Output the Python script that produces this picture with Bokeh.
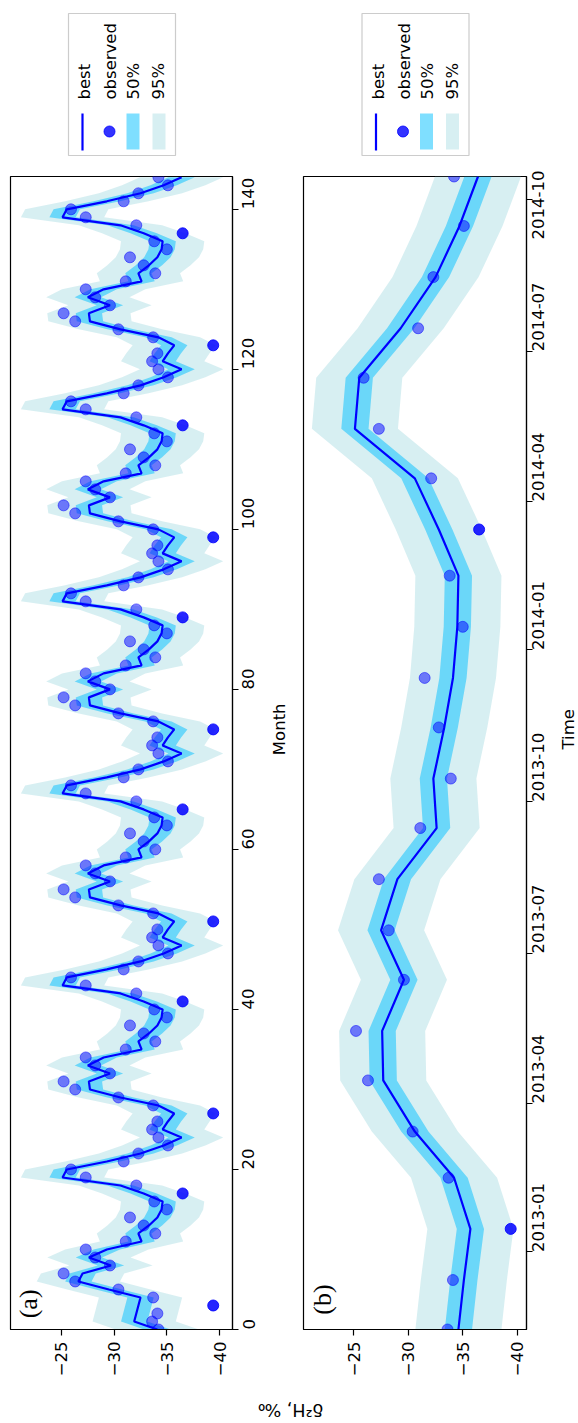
import math
import pandas as pd
from bokeh.plotting import figure
from bokeh.layouts import column, row
from bokeh.models import (Range1d, FixedTicker, CustomJSTickFormatter,
                          DatetimeTickFormatter, Label, ColumnDataSource)
from bokeh.core.properties import value
from bokeh.embed import file_html
from bokeh.resources import INLINE

# ---------------- data ----------------
# monthly series, month 0 .. 144 (month 121 = 2012-11-15, month 144 = 2014-10-15)
best = [
    -34.1, -31.9, -32.1, -32.3, -32.5, -29.5, -26.6, -27.0, -29.7, -27.6, -29.3, -32.6,
    -32.3, -33.3, -34.1, -34.5, -34.6, -32.8, -30.6, -25.1, -25.5, -29.3, -32.5, -34.7,
    -36.4, -34.6, -35.1, -35.7, -34.2, -30.6, -27.7, -27.6, -29.6, -27.5, -29.0, -32.6,
    -32.3, -33.3, -34.1, -34.5, -34.6, -32.8, -30.6, -25.1, -25.5, -29.3, -32.5, -34.7,
    -36.4, -34.6, -35.1, -35.7, -34.2, -30.6, -27.7, -27.6, -29.6, -27.5, -29.0, -32.6,
    -32.3, -33.3, -34.1, -34.5, -34.6, -32.8, -30.6, -25.1, -25.5, -29.3, -32.5, -34.7,
    -36.4, -34.6, -35.1, -35.7, -34.2, -30.6, -27.7, -27.6, -29.6, -27.5, -29.0, -32.6,
    -32.3, -33.3, -34.1, -34.5, -34.6, -32.8, -30.6, -25.1, -25.5, -29.3, -32.5, -34.7,
    -36.4, -34.6, -35.1, -35.7, -34.2, -30.6, -27.7, -27.6, -29.6, -27.5, -29.0, -32.6,
    -32.3, -33.3, -34.1, -34.5, -34.6, -32.8, -30.6, -25.1, -25.5, -29.3, -32.5, -34.7,
    -36.4, -34.6, -35.1, -35.7, -34.2, -30.6, -27.7, -27.6, -29.6, -27.5, -29.0, -32.6,
    -32.3, -33.3, -34.1, -34.5, -34.6, -32.8, -30.6, -25.1, -25.5, -29.3, -32.5, -34.7,
    -36.4,
]
observed = [
    -34.2, -33.6, -34.1, -39.4, -33.7, -30.4, -26.3, -25.2, -29.6, -28.2, -27.3, -31.1,
    -33.9, -32.8, -31.5, -35.0, -33.8, -36.5, -32.1, -27.3, -25.9, -30.9, -32.3, -35.1,
    -34.2, -33.6, -34.1, -39.4, -33.7, -30.4, -26.3, -25.2, -29.6, -28.2, -27.3, -31.1,
    -33.9, -32.8, -31.5, -35.0, -33.8, -36.5, -32.1, -27.3, -25.9, -30.9, -32.3, -35.1,
    -34.2, -33.6, -34.1, -39.4, -33.7, -30.4, -26.3, -25.2, -29.6, -28.2, -27.3, -31.1,
    -33.9, -32.8, -31.5, -35.0, -33.8, -36.5, -32.1, -27.3, -25.9, -30.9, -32.3, -35.1,
    -34.2, -33.6, -34.1, -39.4, -33.7, -30.4, -26.3, -25.2, -29.6, -28.2, -27.3, -31.1,
    -33.9, -32.8, -31.5, -35.0, -33.8, -36.5, -32.1, -27.3, -25.9, -30.9, -32.3, -35.1,
    -34.2, -33.6, -34.1, -39.4, -33.7, -30.4, -26.3, -25.2, -29.6, -28.2, -27.3, -31.1,
    -33.9, -32.8, -31.5, -35.0, -33.8, -36.5, -32.1, -27.3, -25.9, -30.9, -32.3, -35.1,
    -34.2, -33.6, -34.1, -39.4, -33.7, -30.4, -26.3, -25.2, -29.6, -28.2, -27.3, -31.1,
    -33.9, -32.8, -31.5, -35.0, -33.8, -36.5, -32.1, -27.3, -25.9, -30.9, -32.3, -35.1,
    -34.2,
]
half50 = 1.25   # half width of the 50% band
half95 = 3.95   # half width of the 95% band
months = list(range(len(best)))
zoom_start = "2012-11-15"   # date of month 121
zoom_first = 121
month_ticks = [0, 20, 40, 60, 80, 100, 120, 140]
value_ticks = [-25, -30, -35, -40]
date_ticks = ["2013-01-01", "2013-04-01", "2013-07-01", "2013-10-01",
              "2014-01-01", "2014-04-01", "2014-07-01", "2014-10-01"]
legend_labels = ["best", "observed", "50%", "95%"]

# ---------------- derived ----------------
lo50 = [b - half50 for b in best]
hi50 = [b + half50 for b in best]
lo95 = [b - half95 for b in best]
hi95 = [b + half95 for b in best]
alpha = [0.85 if abs(o - b) > 3.5 else 0.5 for o, b in zip(observed, best)]

FONT = "DejaVu Sans"
FS = "16.5px"
minus_fmt = CustomJSTickFormatter(code="return tick < 0 ? '\u2212' + (-tick) : '' + tick;")


def style(p, ystand):
    p.xgrid.visible = False
    p.ygrid.visible = False
    p.outline_line_color = "black"
    p.outline_line_alpha = 1.0
    p.outline_line_width = 1.2
    p.background_fill_color = "white"
    p.border_fill_color = "white"
    for ax in p.axis:
        ax.axis_line_color = "black"
        ax.axis_line_width = 1.2
        ax.major_tick_line_color = "black"
        ax.major_tick_line_width = 1.2
        ax.major_tick_out = 6
        ax.major_tick_in = 0
        ax.minor_tick_out = 0
        ax.minor_tick_in = 0
        ax.major_label_text_font = FONT
        ax.major_label_text_font_size = FS
        ax.major_label_text_color = "black"
        ax.major_label_orientation = math.pi / 2
    p.xaxis.major_label_standoff = 6
    p.yaxis.major_label_standoff = ystand


def draw(p, ys, sl):
    src = ColumnDataSource(dict(y=ys, best=best[sl], obs=observed[sl], lo50=lo50[sl],
                                hi50=hi50[sl], lo95=lo95[sl], hi95=hi95[sl], a=alpha[sl]))
    p.harea(x1="lo95", x2="hi95", y="y", source=src, fill_color="powderblue", fill_alpha=0.5)
    p.harea(x1="lo50", x2="hi50", y="y", source=src, fill_color="deepskyblue", fill_alpha=0.5)
    p.line(x="best", y="y", source=src, line_color="blue", line_width=2.2)
    p.scatter(x="obs", y="y", source=src, size=11, fill_color="blue", line_color="blue",
              fill_alpha="a", line_alpha="a")


def strip(width, height, x, y, text, angle, fs=FS):
    p = figure(width=width, height=height, x_range=Range1d(0, width), y_range=Range1d(height, 0),
               x_axis_location=None, y_axis_location=None, output_backend="svg",
               toolbar_location=None, min_border=0)
    p.grid.visible = False
    p.outline_line_color = None
    p.text(x=[x], y=[y], text=[text], angle=angle, text_align="center",
           text_baseline="middle", text_font=value(FONT), text_font_size=fs,
           text_color="black")
    return p


# ---------------- panel (a) ----------------
pa = figure(width=268, height=1215, x_range=Range1d(-20.16, -41.23), y_range=Range1d(0, 144.1),
            y_axis_location="right", output_backend="svg", toolbar_location=None,
            min_border_left=10, min_border_right=36, min_border_top=6, min_border_bottom=56)
draw(pa, months, slice(0, len(best)))
style(pa, 10)
pa.xaxis.ticker = FixedTicker(ticks=value_ticks)
pa.xaxis.formatter = minus_fmt
pa.yaxis.ticker = FixedTicker(ticks=month_ticks)
pa.add_layout(Label(x=-21.9, y=1.4, text="(a)", angle=math.pi / 2, text_align="left",
                    text_baseline="middle", text_font="Liberation Serif",
                    text_font_size="26px", text_color="black"))

# ---------------- panel (b) ----------------
dates_b = [(pd.Timestamp(zoom_start) + pd.DateOffset(months=i)).to_pydatetime()
           for i in range(len(best) - zoom_first)]

pb = figure(width=268, height=1215, x_range=Range1d(-20.38, -40.85),
            y_range=Range1d(dates_b[0], dates_b[-1]), y_axis_type="datetime",
            y_axis_location="right", output_backend="svg", toolbar_location=None,
            min_border_left=13, min_border_right=32, min_border_top=6, min_border_bottom=56)
draw(pb, dates_b, slice(zoom_first, len(best)))
style(pb, 6)
pb.xaxis.ticker = FixedTicker(ticks=value_ticks)
pb.xaxis.formatter = minus_fmt
pb.yaxis.ticker = FixedTicker(ticks=[pd.Timestamp(t).value / 1e6 for t in date_ticks])
pb.yaxis.formatter = DatetimeTickFormatter(days="%Y-%m", months="%Y-%m", years="%Y-%m",
                                           hours="%Y-%m", minutes="%Y-%m")
pb.add_layout(Label(x=-22.1, y=pd.Timestamp("2012-11-24").value / 1e6, text="(b)",
                    angle=math.pi / 2, text_align="left", text_baseline="middle",
                    text_font="Liberation Serif", text_font_size="26px", text_color="black"))

# axis titles, in narrow strips beside each panel
month_strip = strip(22, 1215, 10.5, 582.5, "Month", math.pi / 2)
time_strip = strip(20, 1215, 10.2, 582.5, "Time", math.pi / 2)


# ---------------- legends ----------------
def legend_fig(width, dx):
    p = figure(width=width, height=170, x_range=Range1d(0, width), y_range=Range1d(170, 0),
               x_axis_location=None, y_axis_location=None, output_backend="svg",
               toolbar_location=None, min_border=0)
    p.grid.visible = False
    p.outline_line_color = None
    p.quad(left=68 + dx, right=175 + dx, top=13, bottom=155, fill_color="white",
           line_color="#cccccc", line_width=1.2)
    p.segment(x0=82 + dx, y0=113, x1=82 + dx, y1=150, line_color="blue", line_width=2.2)
    p.scatter(x=[109 + dx], y=[131], size=11, fill_color="blue", line_color="blue", alpha=0.8)
    p.quad(left=126 + dx, right=139 + dx, top=113, bottom=149, fill_color="deepskyblue",
           fill_alpha=0.5, line_color=None)
    p.quad(left=152 + dx, right=165 + dx, top=113, bottom=149, fill_color="powderblue",
           fill_alpha=0.5, line_color=None)
    xs = [84 + dx, 110 + dx, 133 + dx, 158 + dx]
    p.text(x=xs, y=[99] * 4, text=legend_labels, angle=math.pi / 2, text_align="left",
           text_baseline="middle", text_font=value(FONT), text_font_size=FS, text_color="black")
    return p


legA = legend_fig(290, 0)
legB = legend_fig(288, 3.5)

# ---------------- shared value label ----------------
bot = strip(578, 36, 290, 24, "\u03b4\u00b2H, \u2030", math.pi, fs="17.5px")

layout = column(row(legA, legB), row(pa, month_strip, pb, time_strip), bot)
open("out.html", "w", encoding="utf-8").write(file_html(layout, INLINE))
